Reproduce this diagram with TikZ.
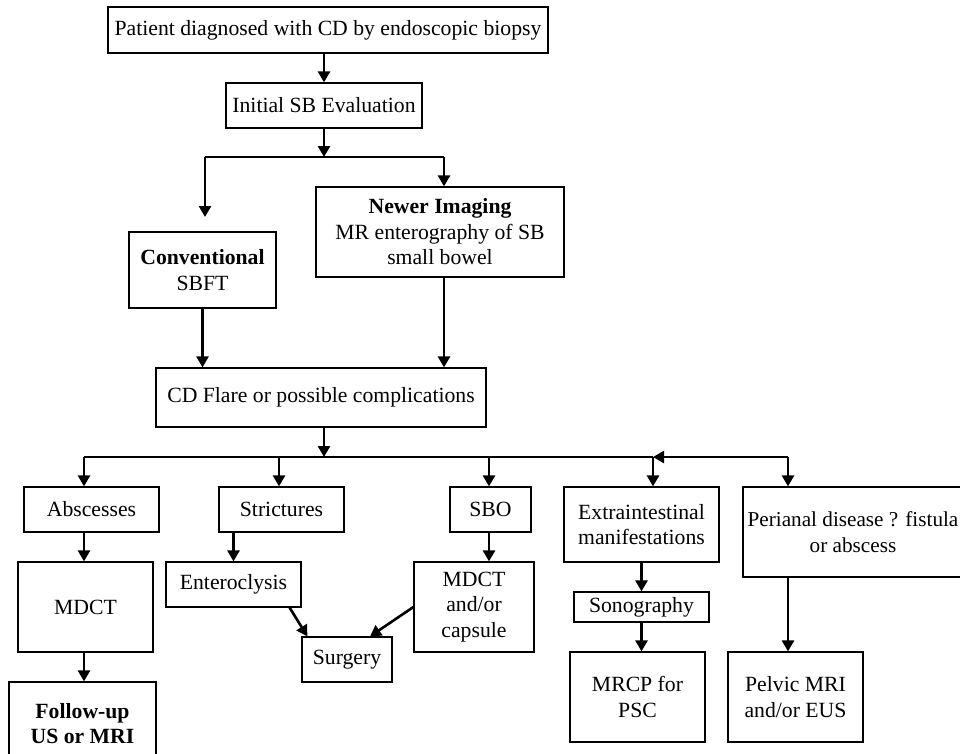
\documentclass[tikz,border=0pt]{standalone}
\usepackage{fontspec}
\setmainfont{Liberation Serif}
\usetikzlibrary{arrows.meta,calc}
\tikzset{
  box/.style={draw, line width=1.2pt, inner sep=0pt, align=center,
    font=\fontsize{21.7}{25.5}\selectfont},
  arr/.style={line width=2.6pt, -{Triangle[length=11pt,width=12pt]}},
  thinline/.style={line width=1.2pt},
}
\begin{document}
\begin{tikzpicture}[x=1pt,y=-1pt]
\useasboundingbox (0,0) rectangle (960,753);

% boxes
\node[box, minimum width=440, minimum height=46] (pat) at (328,30) {Patient diagnosed with CD by endoscopic biopsy};
\node[box, minimum width=196, minimum height=45] (init) at (324,105.5) {Initial SB Evaluation};
\node[box, minimum width=147, minimum height=76] (conv) at (202.5,270) {\textbf{Conventional}\\SBFT};
\node[box, minimum width=248, minimum height=90] (newer) at (440,232) {\textbf{Newer Imaging}\\MR enterography of SB\\small bowel};
\node[box, minimum width=330, minimum height=59] (flare) at (321,397.5) {CD Flare or possible complications};

\node[box, minimum width=135, minimum height=45] (absc) at (91.5,509.5) {Abscesses};
\node[box, minimum width=125, minimum height=45] (strict) at (281.5,509.5) {Strictures};
\node[box, minimum width=81, minimum height=45] (sbo) at (490.5,509.5) {SBO};
\node[box, minimum width=155, minimum height=75] (extra) at (641.5,524.5) {Extraintestinal\\manifestations};
\node[box, minimum width=220, minimum height=90, font=\fontsize{21.2}{25.5}\selectfont] (peri) at (853,532) {Perianal disease ? fistula\\or abscess};

\node[box, minimum width=135, minimum height=90] (mdct) at (85.5,607) {MDCT};
\node[box, minimum width=135, minimum height=45] (entero) at (233.5,584.5) {Enteroclysis};
\node[box, minimum width=120, minimum height=90] (mdctcap) at (474,607) {MDCT\\and/or\\capsule};
\node[box, minimum width=90, minimum height=45] (surg) at (347,659.5) {Surgery};
\node[box, minimum width=135, minimum height=30] (sono) at (641.5,607) {Sonography};
\node[box, minimum width=135, minimum height=90] (mrcp) at (637.5,697) {MRCP for\\PSC};
\node[box, minimum width=135, minimum height=90] (pelvic) at (795.5,697) {Pelvic MRI\\and/or EUS};
\node[box, minimum width=147, minimum height=83] (follow) at (82.5,723.5) {\textbf{Follow-up}\\\textbf{US or MRI}};

% junction points
\coordinate (j1) at (324,157);
\coordinate (jl) at (205,157);
\coordinate (jr) at (444,157);
\coordinate (ctip) at (205,217);
\coordinate (j2) at (324,457);
\coordinate (b1) at (84,457);
\coordinate (b2) at (279,457);
\coordinate (b3) at (489,457);
\coordinate (b4) at (653,457);
\coordinate (b5) at (788,457);

% upper part
\draw[arr] (init.north |- pat.south) -- (init.north);
\draw[arr] (init.south) -- (j1);
\draw[thinline] (jl) -- (jr);
\draw[arr] (jl) -- (ctip);
\draw[arr] (jr) -- (jr |- newer.north);
\draw[arr] (conv.south) -- (conv.south |- flare.north);
\draw[arr] (jr |- newer.south) -- (jr |- flare.north);

% distribution line
\draw[arr] (j2 |- flare.south) -- (j2);
\draw[thinline] (b1) -- (b4);
\draw[arr] (b1) -- (b1 |- absc.north);
\draw[arr] (b2) -- (b2 |- strict.north);
\draw[arr] (b3) -- (b3 |- sbo.north);
\draw[arr] (b4) -- (b4 |- extra.north);
\draw[arr] (b5) -- (b4);
\draw[arr] (b5) -- (b5 |- peri.north);

% lower part
\draw[arr] (b1 |- absc.south) -- (b1 |- mdct.north);
\draw[arr] (b1 |- mdct.south) -- (b1 |- follow.north);
\draw[arr] (entero.north |- strict.south) -- (entero.north);
\draw[arr] ($(entero.south east)+(-12,0)$) -- ($(surg.north west)+(6,0)$);
\draw[arr] (mdctcap.west) -- ($(surg.north)+(23,0)$);
\draw[arr] (b3 |- sbo.south) -- (b3 |- mdctcap.north);
\draw[arr] (extra.south) -- (sono.north);
\draw[arr] (sono.south) -- (sono.south |- mrcp.north);
\draw[arr] (b5 |- peri.south) -- (b5 |- pelvic.north);
\end{tikzpicture}
\end{document}
